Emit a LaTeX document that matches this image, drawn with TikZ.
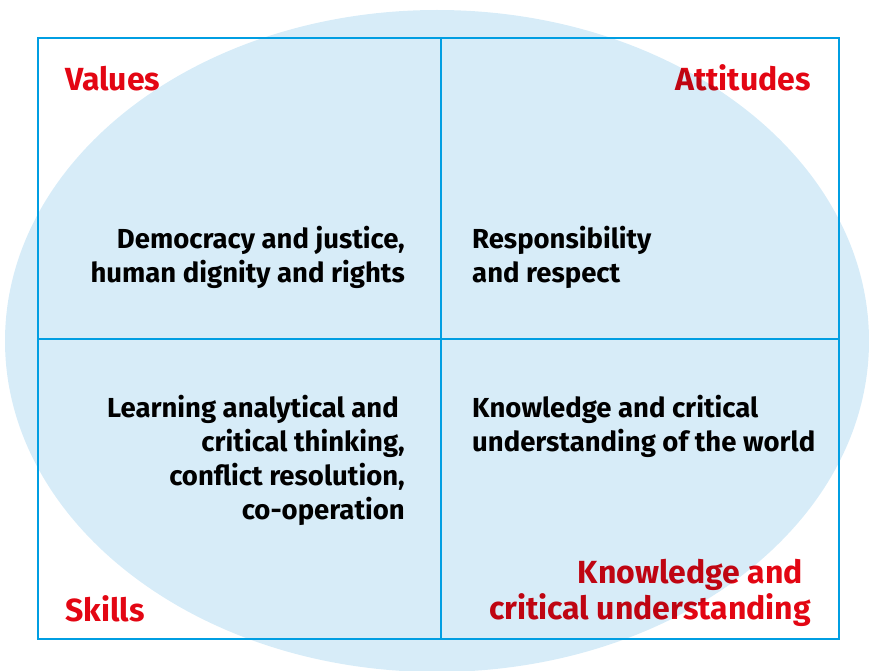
\documentclass[tikz,border=0pt]{standalone}
\usepackage{fontspec}
\setmainfont{Fira Sans}
\usetikzlibrary{positioning}
\definecolor{frameblue}{RGB}{0, 158, 226}
\definecolor{ovalblue}{RGB}{215, 236, 248}
\definecolor{labelred}{RGB}{227, 6, 19}
\tikzset{
    % Quadrant titles
    corner label/.style={
        inner sep=0pt, text=labelred,
        font=\fontsize{32}{36}\selectfont\bfseries
    },
    % Quadrant contents
    body text/.style={
        inner sep=0pt, text=black,
        font=\fontsize{27.5}{34}\selectfont\bfseries
    },
    % Frame and cross
    grid line/.style={
        draw=frameblue, line width=2.4pt
    }
}
\begin{document}
\begin{tikzpicture}[x=1pt, y=-1pt]

    \useasboundingbox (0, 0) rectangle (869, 671);

    % Background oval
    \fill[ovalblue] (437, 341) ellipse [x radius=432pt, y radius=331pt];

    % Frame corners and cross ends
    \coordinate (FrameNW) at (38, 38);
    \coordinate (FrameSE) at (839, 639);
    \coordinate (CrossN) at (441, 38);
    \coordinate (CrossS) at (441, 639);
    \coordinate (CrossW) at (38, 339);
    \coordinate (CrossE) at (839, 339);

    \draw[grid line] (FrameNW) rectangle (FrameSE);
    \draw[grid line] (CrossN) -- (CrossS);
    \draw[grid line] (CrossW) -- (CrossE);

    % Quadrant contents (anchored on the last line)
    \node[body text, anchor=base east, align=right] (values) at (405, 282) {
        Democracy and justice,\\
        human dignity and rights
    };
    \node[body text, anchor=base west, align=left] (attitudes) at (472, 282) {
        Responsibility\\
        and respect
    };
    \node[body text, anchor=base east, align=right] (skills) at (405, 519) {
        Learning analytical and\kern6pt\\
        critical thinking,\\
        conflict resolution,\\
        co-operation
    };
    \node[body text, anchor=base west, align=left] (knowledge) at (472, 451) {
        Knowledge and critical\\
        understanding of the world
    };

    % Quadrant titles
    \begin{scope}[blend mode=multiply]
        \node[corner label, anchor=base west] (ValT) at (65, 91) {Values};
        \node[corner label, anchor=base east] (AttT) at (811, 91) {Attitudes};
        \node[corner label, anchor=base west] (SkiT) at (65, 621) {Skills};
        \node[corner label, anchor=base east, align=right] (KnoT) at (811, 619) {
            Knowledge and\kern8pt\\
            critical understanding
        };
    \end{scope}

\end{tikzpicture}
\end{document}
